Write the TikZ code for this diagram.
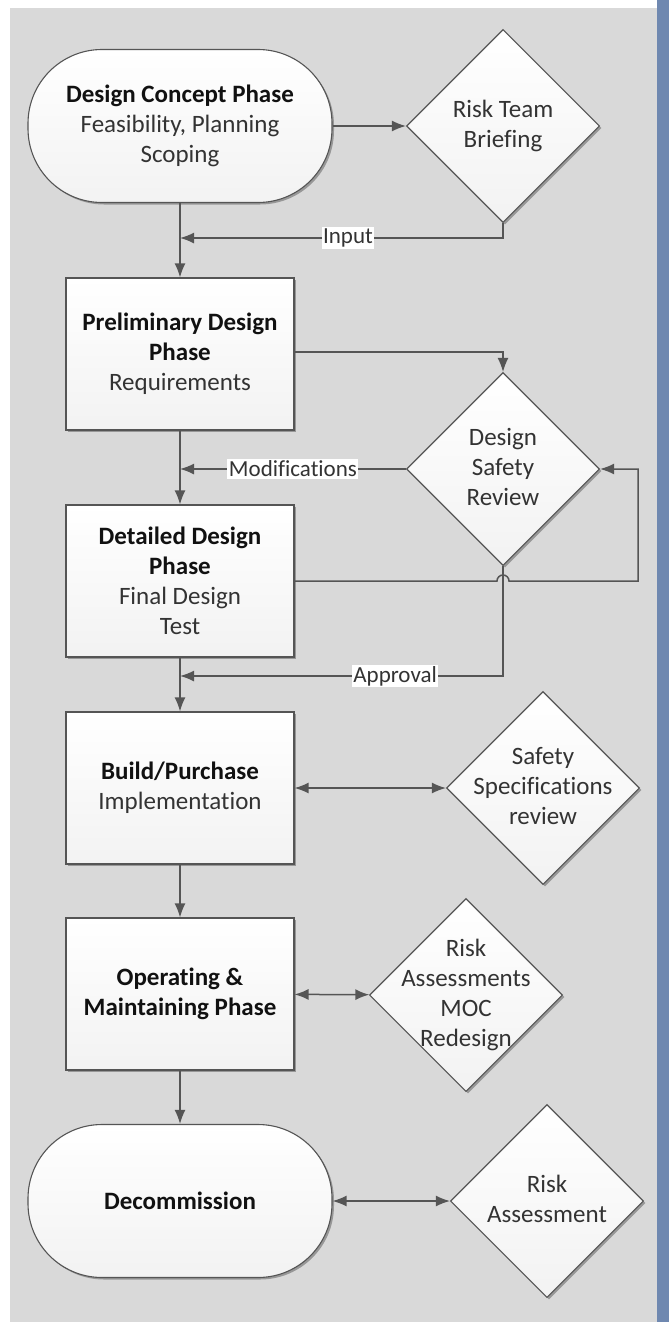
\documentclass[tikz,border=0pt]{standalone}
\usepackage{fontspec}
\setmainfont{Carlito}[Ligatures={NoCommon}]
\usetikzlibrary{shapes.geometric,shadows,arrows.meta}
\definecolor{bgc}{HTML}{D9D9D9}
\definecolor{stripc}{HTML}{6F88B0}
\definecolor{lnc}{HTML}{555555}
\definecolor{txc}{HTML}{333333}
\definecolor{bfc}{HTML}{111111}
\newcommand\dtext[1]{\smash{\makebox[0pt]{\raisebox{-0.25em}{\begin{tabular}{@{}c@{}}#1\end{tabular}}}}}
\newcommand\hd[1]{\textcolor{bfc}{\textbf{#1}}}
\tikzset{
  shapebase/.style={draw=lnc, line width=1.1pt, top color=white, bottom color=black!5,
    drop shadow={shadow xshift=2pt, shadow yshift=-2pt, opacity=0.3, fill=black},
    text=txc, font=\fontsize{25}{30}\selectfont, align=center},
  boxn/.style={shapebase, rectangle, minimum width=228pt, minimum height=152pt, inner sep=0pt},
  termn/.style={shapebase, rectangle, rounded corners=74pt, minimum width=304pt, minimum height=153pt, inner sep=0pt},
  dian/.style={shapebase, diamond, minimum width=193pt, minimum height=193pt, inner sep=0pt},
  lbl/.style={fill=white, inner sep=1.5pt, text=txc, font=\fontsize{23}{26}\selectfont},
  conn/.style={draw=lnc, line width=1.5pt},
  arr/.style={conn, -{Latex[length=14pt,width=11pt]}},
  darr/.style={conn, {Latex[length=14pt,width=11pt]}-{Latex[length=14pt,width=11pt]}}
}
\begin{document}
\begin{tikzpicture}[x=1pt,y=-1pt]
\useasboundingbox (0,0) rectangle (669,1322);
\fill[white] (0,0) rectangle (669,1322);
\fill[bgc] (10,8) rectangle (657,1322);
\fill[stripc] (657,0) rectangle (669,1322);

% nodes
\node[termn] (t1) at (180,126) {\hd{Design Concept Phase}\\Feasibility, Planning\\Scoping};
\node[dian] (d1) at (503,126) {\dtext{Risk Team\\Briefing}};
\node[boxn] (b2) at (180,354) {\hd{Preliminary Design}\\\hd{Phase}\\Requirements};
\node[dian] (d2) at (503,469) {\dtext{Design\\Safety\\Review}};
\node[boxn] (b3) at (180,581) {\hd{Detailed Design}\\\hd{Phase}\\Final Design\\Test};
\node[boxn] (b4) at (180,788) {\hd{Build/Purchase}\\Implementation};
\node[dian] (d3) at (543,788) {\dtext{Safety\\Specifications\\review}};
\node[boxn] (b5) at (180,994) {\hd{Operating \&}\\\hd{Maintaining Phase}};
\node[dian] (d4) at (466,995) {\dtext{Risk\\Assessments\\MOC\\Redesign}};
\node[termn] (t2) at (180,1201) {\hd{Decommission}};
\node[dian] (d5) at (547,1201) {\dtext{Risk\\Assessment}};

\coordinate (inp) at (180,238);
\coordinate (mod) at (180,469);
\coordinate (apv) at (180,676);
\coordinate (hopl) at (497,581);
\coordinate (loop) at (638,581);

% main flow
\draw[arr] (t1) -- (b2);
\draw[arr] (b2) -- (b3);
\draw[arr] (b3) -- (b4);
\draw[arr] (b4) -- (b5);
\draw[arr] (b5) -- (t2);

% side connections
\draw[arr] (t1) -- (d1);
\draw[arr] (d1.south) |- (inp) node[lbl, pos=0.74] {Input};
\draw[arr] (b2.east |- 0,352) -| (d2.north);
\draw[arr] (d2.west) -- (mod) node[lbl, pos=0.5] {Modifications};
\draw[arr] (b3.east) -- (hopl) arc (180:360:6) -- (loop) |- (d2.east);
\draw[arr] (d2.south) |- (apv) node[lbl, pos=0.667] {Approval};
\draw[darr] (b4) -- (d3);
\draw[darr] (b5) -- (d4);
\draw[darr] (t2) -- (d5);
\end{tikzpicture}
\end{document}
